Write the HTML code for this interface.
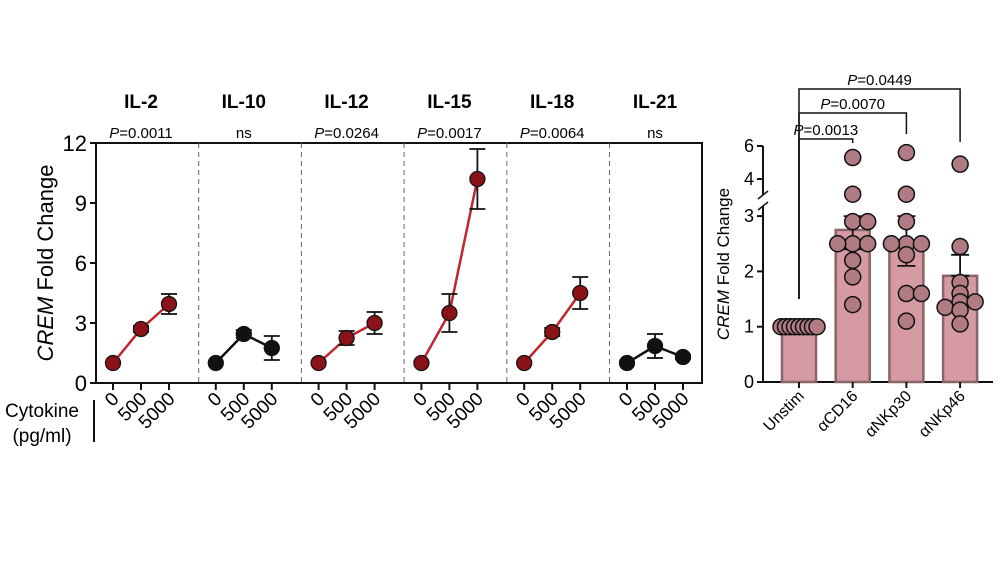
<!DOCTYPE html>
<html><head><meta charset="utf-8"><style>
body{margin:0;background:#fff;width:1000px;height:563px;overflow:hidden}
svg{font-family:"Liberation Sans",Arial,sans-serif}
</style></head><body>
<svg id="c" width="1000" height="563"></svg>
<script>
const cytokines=["IL-2","IL-10","IL-12","IL-15","IL-18","IL-21"];
const pvals=["0.0011","ns","0.0264","0.0017","0.0064","ns"];
const doses=["0","500","5000"];
const means=[[1,2.7,3.95],[1,2.45,1.75],[1,2.25,3.0],[1,3.5,10.2],[1,2.55,4.5],[1,1.85,1.3]];
const errs=[[0,0.15,0.5],[0,0.2,0.6],[0,0.35,0.55],[0,0.95,1.5],[0,0.2,0.8],[0,0.6,0.1]];
const signif=[true,false,true,true,true,false];
const yTicks=[0,3,6,9,12];
const groups=["Unstim","\u03b1CD16","\u03b1NKp30","\u03b1NKp46"];
const barVals=[1,2.75,2.55,1.92];
const barErrHi=[1,3.0,3.0,2.3];
const barErrLo=[1,2.4,2.1,1.92];
const dots=[[1,1,1,1,1,1,1,1,1],[5.3,3.6,2.9,2.9,2.5,2.5,2.5,2.2,1.9,1.4],[5.6,3.6,2.9,2.5,2.5,2.5,2.3,1.6,1.6,1.1],[4.9,2.45,1.8,1.6,1.45,1.45,1.35,1.3,1.05]];
const rTicks=[0,1,2,3,4,6];
const brackets=[["0.0013",1],["0.0070",2],["0.0449",3]];

const S="http://www.w3.org/2000/svg",svg=document.getElementById('c');
function el(t,a,txt,p){const e=document.createElementNS(S,t);for(const k in a)e.setAttribute(k,a[k]);if(txt!=null)e.textContent=txt;(p||svg).appendChild(e);return e;}
// left chart
const y0=383,yu=20,ax=96,ar=702;
const Y=v=>y0-v*yu;
const PX=(i,j)=>113+i*102.8+j*28;
let e=el('line',{x1:ax,y1:143,x2:ax,y2:y0,stroke:'#111','stroke-width':2});

e=el('rect',{x:ax,y:143,width:ar-ax,height:y0-143,fill:'none',stroke:'#111','stroke-width':2});

yTicks.forEach(t=>{el('line',{x1:ax-6,y1:Y(t),x2:ax,y2:Y(t),stroke:'#111','stroke-width':2});
 e=el('text',{x:ax-9,y:Y(t)+8,'text-anchor':'end','font-size':22},t);
 });
e=el('text',{transform:'translate(53,263) rotate(-90)','text-anchor':'middle','font-size':22});

el('tspan',{'font-style':'italic'},'CREM',e);el('tspan',{},' Fold Change',e);
cytokines.forEach((c,i)=>{
 if(i>0){e=el('line',{x1:96+i*102.7,y1:143,x2:96+i*102.7,y2:y0,stroke:'#666','stroke-width':1,'stroke-dasharray':'5,4'});
  }
 const cx=PX(i,1);
 e=el('text',{x:cx,y:108,'text-anchor':'middle','font-size':19,'font-weight':'bold'},c);
 
 e=el('text',{x:cx,y:138,'text-anchor':'middle','font-size':15});
 
 if(pvals[i]==='ns')e.textContent='ns';else{el('tspan',{'font-style':'italic'},'P',e);el('tspan',{},'='+pvals[i],e);}
 const col=signif[i]?'#c0262f':'#111',fill=signif[i]?'#8c1219':'#111';
 let pts=means[i].map((v,j)=>PX(i,j)+','+Y(v)).join(' ');
 e=el('polyline',{points:pts,fill:'none',stroke:col,'stroke-width':2.5});
 
 means[i].forEach((v,j)=>{
  const x=PX(i,j);
  el('line',{x1:x,y1:y0,x2:x,y2:y0+7,stroke:'#111','stroke-width':2});
  e=el('text',{transform:`translate(${x+7},${y0+17}) rotate(-45)`,'text-anchor':'end','font-size':19},doses[j]);
  
  if(errs[i][j]>0){const a=Y(v+errs[i][j]),b=Y(v-errs[i][j]);
   el('line',{x1:x,y1:a,x2:x,y2:b,stroke:'#111','stroke-width':1.8});
   el('line',{x1:x-8,y1:a,x2:x+8,y2:a,stroke:'#111','stroke-width':1.8});
   el('line',{x1:x-8,y1:b,x2:x+8,y2:b,stroke:'#111','stroke-width':1.8});}
  e=el('circle',{cx:x,cy:Y(v),r:7.5,fill:fill,stroke:'#111','stroke-width':1.3});
  
 });
});
e=el('text',{x:42,y:417,'text-anchor':'middle','font-size':19},'Cytokine');

el('text',{x:42,y:442,'text-anchor':'middle','font-size':19},'(pg/ml)');
el('line',{x1:94,y1:400,x2:94,y2:442,stroke:'#111','stroke-width':2});
// right chart
const rx=763,rr=993;
const RY=v=>v<=3?382-v*55.3:(v<4?217-(v-3)*38:179-(v-4)*16.5);
const RB=i=>799+i*53.7;
e=el('line',{x1:rx,y1:146,x2:rx,y2:195,stroke:'#111','stroke-width':2});

e=el('line',{x1:rx,y1:206,x2:rx,y2:382,stroke:'#111','stroke-width':2});

el('line',{x1:758,y1:199,x2:768,y2:191,stroke:'#111','stroke-width':1.5});
el('line',{x1:758,y1:210,x2:768,y2:202,stroke:'#111','stroke-width':1.5});
e=el('line',{x1:rx,y1:382,x2:rr,y2:382,stroke:'#111','stroke-width':2});

rTicks.forEach(t=>{el('line',{x1:rx-6,y1:RY(t),x2:rx,y2:RY(t),stroke:'#111','stroke-width':2});
 e=el('text',{x:rx-9,y:RY(t)+6,'text-anchor':'end','font-size':18},t);
 });
e=el('text',{transform:'translate(729,264) rotate(-90)','text-anchor':'middle','font-size':17});

el('tspan',{'font-style':'italic'},'CREM',e);el('tspan',{},' Fold Change',e);
groups.forEach((g,i)=>{
 const x=RB(i);
 e=el('rect',{x:x-17,y:RY(barVals[i]),width:34,height:382-RY(barVals[i]),fill:'#d59aa2',stroke:'#8a6468','stroke-width':2.5});
 
 el('line',{x1:x,y1:382,x2:x,y2:388,stroke:'#111','stroke-width':2});
 e=el('text',{transform:`translate(${x+6},${397}) rotate(-45)`,'text-anchor':'end','font-size':16},g);
 
 if(barErrHi[i]>barVals[i]){const a=RY(barErrHi[i]),b=RY(barErrLo[i]);
  el('line',{x1:x,y1:a,x2:x,y2:b,stroke:'#111','stroke-width':1.8});
  el('line',{x1:x-9,y1:a,x2:x+9,y2:a,stroke:'#111','stroke-width':1.8});
  el('line',{x1:x-9,y1:b,x2:x+9,y2:b,stroke:'#111','stroke-width':1.8});}
 const seen={};
 dots[i].forEach((v,k)=>{const key=v.toFixed(1);seen[key]=(seen[key]||0)+1;const n=seen[key]-1;
  const off=i===0?(k-4)*4.5:(n===0?0:(n%2?1:-1)*Math.ceil(n/2)*15);
  e=el('circle',{cx:x+off,cy:RY(v),r:8,fill:'#b07b82',stroke:'#111','stroke-width':1.5});
  });
});
const btop=[139,113,89],bend=[143,134,142];
brackets.forEach((b,k)=>{const x2=RB(b[1]);
 e=el('polyline',{points:`${RB(0)},299 ${RB(0)},${btop[k]} ${x2},${btop[k]} ${x2},${bend[k]}`,fill:'none',stroke:'#111','stroke-width':1.5});
 
 e=el('text',{x:(RB(0)+x2)/2,y:btop[k]-4,'text-anchor':'middle','font-size':15});
 
 el('tspan',{'font-style':'italic'},'P',e);el('tspan',{},'='+b[0],e);});
</script>
</body></html>
